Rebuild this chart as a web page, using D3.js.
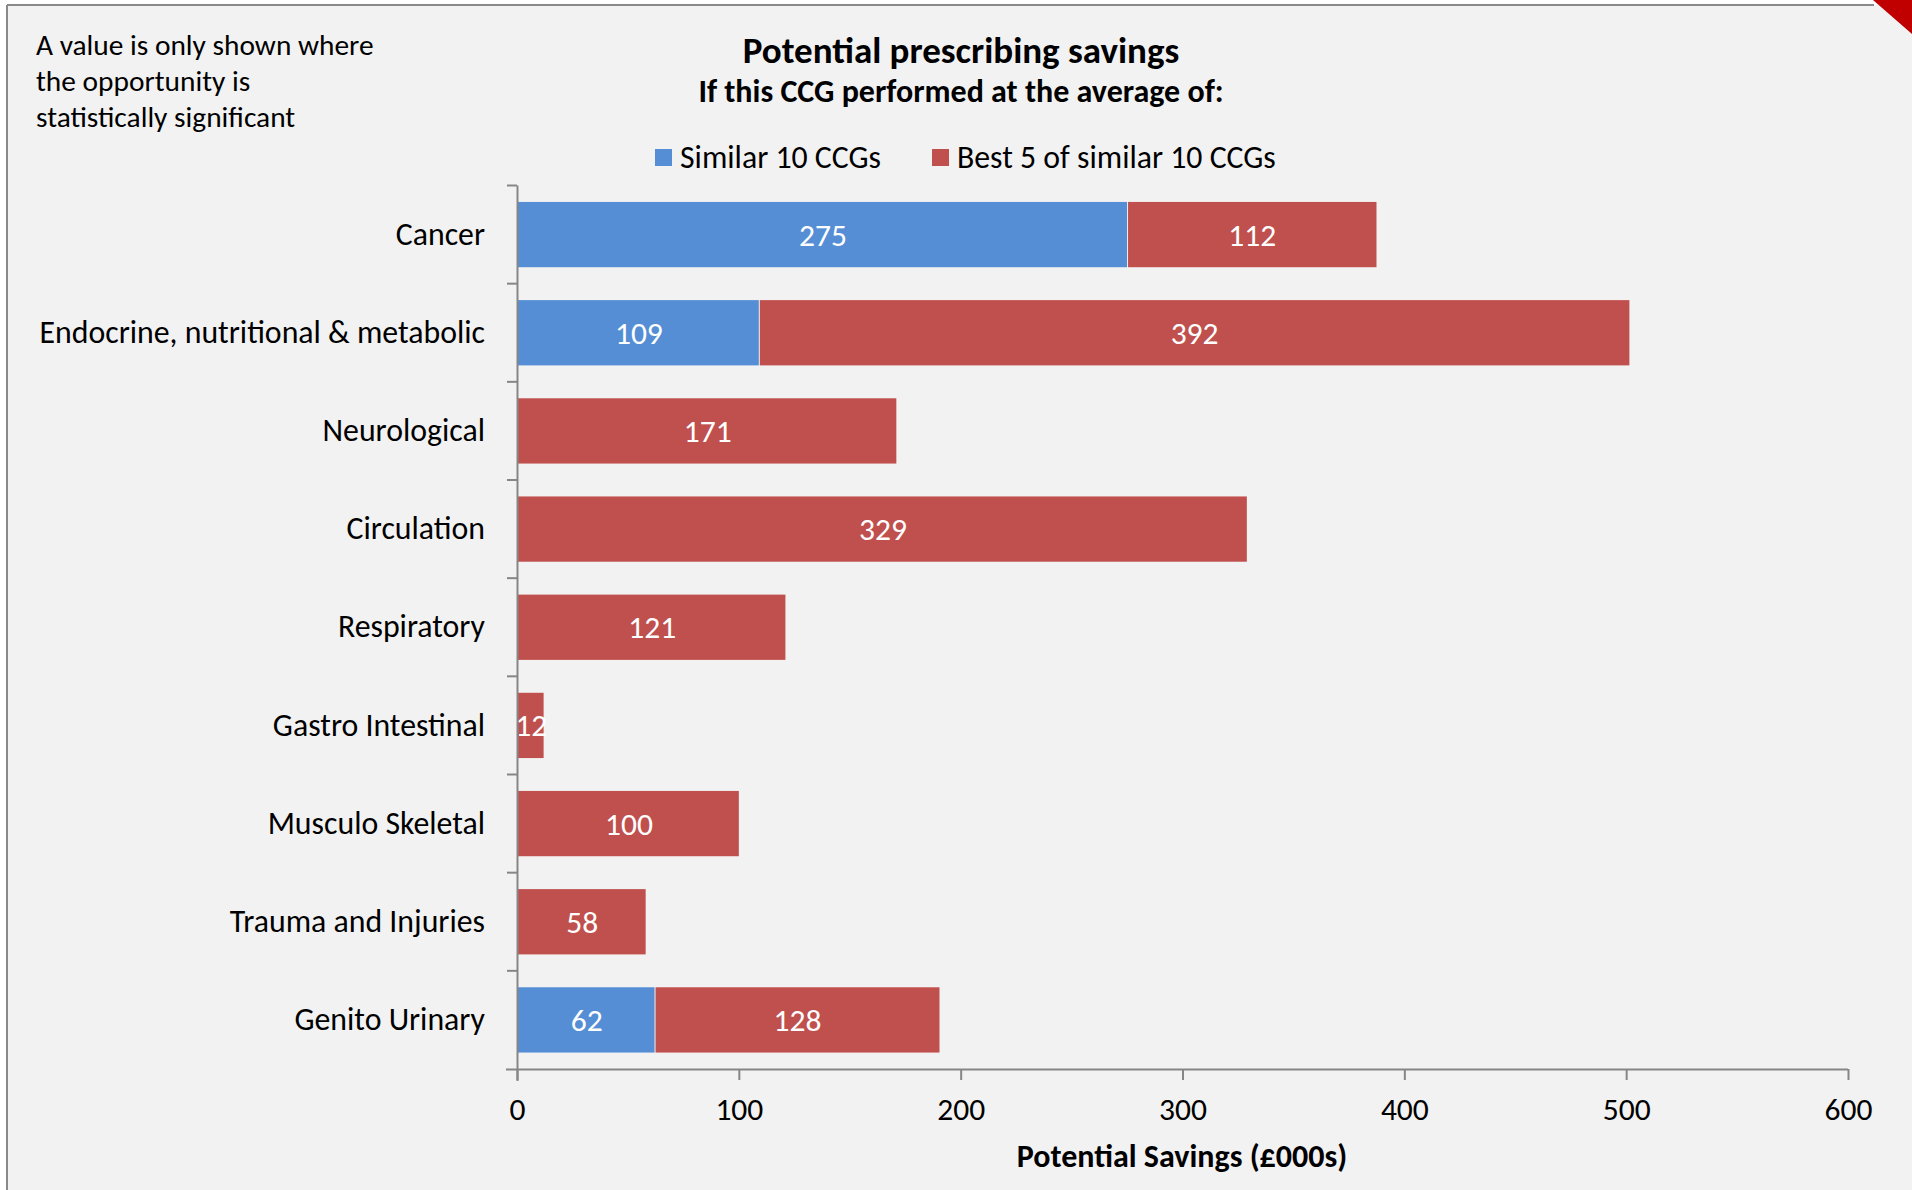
<!DOCTYPE html>
<html lang="en">
  <head>
    <meta charset="UTF-8" />
    <script src="https://d3js.org/d3.v7.min.js"></script>
    <title>Potential prescribing savings</title>
    <style>
      body { margin: 0; background: #ffffff; }
      svg text { font-family: Carlito, Calibri, Lato, sans-serif; fill: #000; }
    </style>
  </head>
  <body>
    <svg id="chart" width="1912" height="1190"></svg>
  </body>
  <script>
    // data (£000s)
    const categories = [
      'Cancer',
      'Endocrine, nutritional & metabolic',
      'Neurological',
      'Circulation',
      'Respiratory',
      'Gastro Intestinal',
      'Musculo Skeletal',
      'Trauma and Injuries',
      'Genito Urinary',
    ]
    const similar10 = [275, 109, 0, 0, 0, 0, 0, 0, 62]
    const best5 = [112, 392, 171, 329, 121, 12, 100, 58, 128]
    const seriesNames = ['Similar 10 CCGs', 'Best 5 of similar 10 CCGs']
    const xTicks = [0, 100, 200, 300, 400, 500, 600]

    const colors = ['#558ed5', '#c0504d']
    const fontFam = 'Carlito, Calibri, Lato, sans-serif'

    const svg = d3.select('#chart')
    const width = 1912, height = 1190

    // panel background + border
    svg.append('rect')
      .attr('x', 7).attr('y', 5)
      .attr('width', width).attr('height', height)
      .attr('fill', '#f2f2f2')
    svg.append('line')
      .attr('x1', 7).attr('y1', 5).attr('x2', 1874).attr('y2', 5)
      .attr('stroke', '#898989').attr('stroke-width', 2)
    svg.append('line')
      .attr('x1', 7).attr('y1', 5).attr('x2', 7).attr('y2', height)
      .attr('stroke', '#898989').attr('stroke-width', 2)
    svg.append('path')
      .attr('d', 'M1873,0 L1912,0 L1912,34 Z')
      .attr('fill', '#c00000')

    const margin = { left: 517, right: 1848, top: 185.5, bottom: 1069 }

    const x = d3.scaleLinear().domain([0, 600]).range([margin.left, margin.right])
    const y = d3.scaleBand().domain(categories)
      .range([margin.top, margin.bottom])
      .paddingInner(0.335).paddingOuter(0.1675)

    const rows = categories.map((c, i) => ({ cat: c, vals: [similar10[i], best5[i]] }))
    const stack = d3.stack().keys([0, 1]).value((d, k) => d.vals[k])(rows)

    const g = svg.append('g')
    stack.forEach((layer, k) => {
      layer.forEach((seg, i) => {
        const v = seg[1] - seg[0]
        if (!v) return
        g.append('rect')
          .attr('x', x(seg[0]) + 1)
          .attr('y', y(categories[i]))
          .attr('width', x(seg[1]) - x(seg[0]) - (seg[0] === 0 ? 1 : 0))
          .attr('height', y.bandwidth())
          .attr('fill', colors[k])
        g.append('text')
          .attr('x', (x(seg[0]) + x(seg[1])) / 2 + 1)
          .attr('y', y(categories[i]) + y.bandwidth() / 2)
          .attr('dy', '0.35em')
          .attr('text-anchor', 'middle')
          .style('fill', '#fff')
          .style('font-size', '31.5px')
          .text(v)
      })
    })

    // axes
    const axisColor = '#868686'
    const xAxis = svg.append('g')
      .attr('transform', `translate(0,${margin.bottom})`)
      .call(d3.axisBottom(x).tickValues(xTicks).tickSize(11).tickSizeOuter(0).tickPadding(18))
    xAxis.select('.domain').attr('stroke', axisColor).attr('stroke-width', 2)
      .attr('d', `M${margin.left - 11},0.5H${margin.right}`)
    xAxis.selectAll('.tick line').attr('stroke', axisColor).attr('stroke-width', 2)
    xAxis.selectAll('.tick text').style('font-size', '31.5px').style('font-family', fontFam)

    const yAxis = svg.append('g')
      .attr('transform', `translate(${margin.left},0)`)
      .call(d3.axisLeft(y).tickSize(0).tickPadding(32))
    yAxis.select('.domain').attr('stroke', axisColor).attr('stroke-width', 2)
      .attr('d', `M0.5,${margin.top}V${margin.bottom + 12}`)
    yAxis.selectAll('.tick text').style('font-size', '31.8px').style('font-family', fontFam)
    // category separators
    const step = y.step()
    yAxis.selectAll('.sep')
      .data(d3.range(categories.length))
      .enter().append('line')
      .attr('x1', -10).attr('x2', 0)
      .attr('y1', (d) => margin.top + d * step)
      .attr('y2', (d) => margin.top + d * step)
      .attr('stroke', axisColor).attr('stroke-width', 2)

    // titles
    svg.append('text')
      .attr('x', 961).attr('y', 63)
      .attr('text-anchor', 'middle')
      .style('font-size', '37px').style('font-weight', 'bold')
      .text('Potential prescribing savings')
    svg.append('text')
      .attr('x', 961).attr('y', 102)
      .attr('text-anchor', 'middle')
      .style('font-size', '32px').style('font-weight', 'bold')
      .text('If this CCG performed at the average of:')

    const note = ['A value is only shown where', 'the opportunity is', 'statistically significant']
    svg.append('text')
      .attr('x', 36).attr('y', 55)
      .style('font-size', '29.4px')
      .selectAll('tspan').data(note).enter().append('tspan')
      .attr('x', 36).attr('dy', (d, i) => (i ? 36 : 0))
      .text((d) => d)

    // legend
    const legendItems = [
      { name: seriesNames[0], x: 655, color: colors[0] },
      { name: seriesNames[1], x: 932, color: colors[1] },
    ]
    const legend = svg.append('g')
    legendItems.forEach((it) => {
      legend.append('rect').attr('x', it.x).attr('y', 149).attr('width', 17).attr('height', 17).attr('fill', it.color)
      legend.append('text').attr('x', it.x + 25).attr('y', 157).attr('dy', '0.35em')
        .style('font-size', '31.8px').text(it.name)
    })

    // x axis title
    svg.append('text')
      .attr('x', 1182).attr('y', 1156).attr('dy', '0.35em')
      .attr('text-anchor', 'middle')
      .style('font-size', '32px').style('font-weight', 'bold')
      .text('Potential Savings (£000s)')
  </script>
</html>
